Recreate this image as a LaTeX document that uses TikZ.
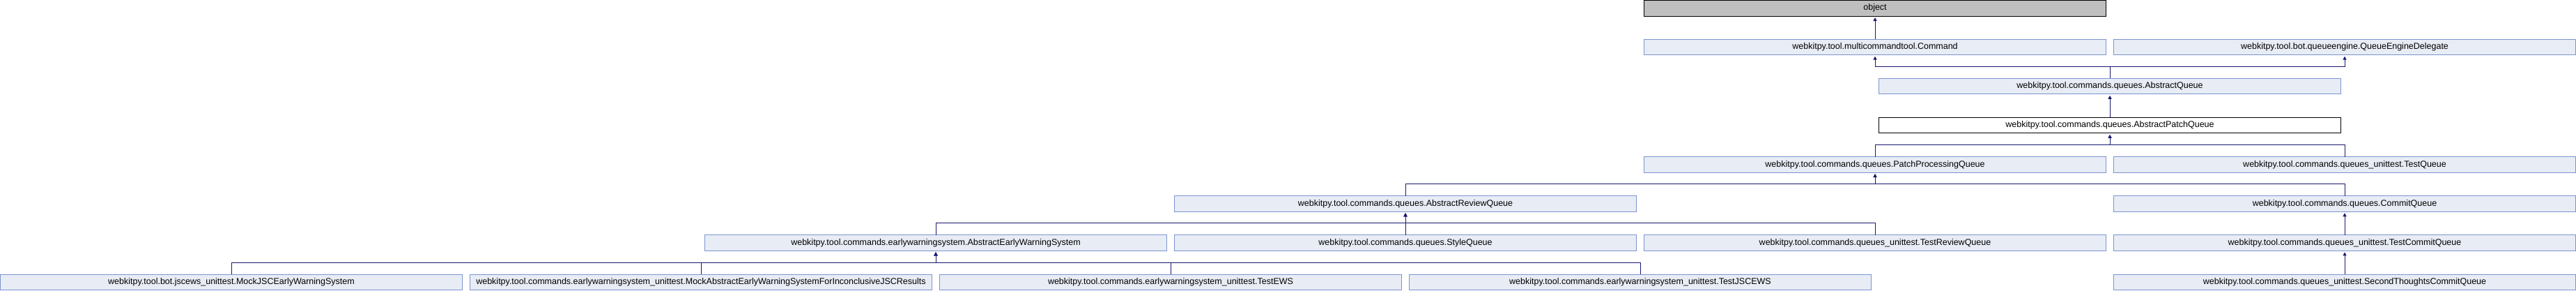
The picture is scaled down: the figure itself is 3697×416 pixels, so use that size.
\documentclass[tikz,border=0pt]{standalone}
\usepackage{fontspec}
\setmainfont{Liberation Sans}
\usetikzlibrary{arrows.meta,calc}
\definecolor{boxfill}{HTML}{E8ECF5}
\definecolor{boxline}{HTML}{7C95CE}
\definecolor{edgecol}{HTML}{191970}
\begin{document}
\begin{tikzpicture}[x=1pt,y=-1pt,
  cls/.style={draw=boxline,fill=boxfill,line width=1pt,minimum width=663pt,minimum height=22.5pt,inner sep=0pt,outer sep=0pt,anchor=north west,font=\fontsize{12.5}{14}\selectfont},
  cur/.style={cls,draw=black,fill=white},
  ext/.style={cls,draw=black,fill=black!25},
  edge/.style={draw=edgecol,line width=1pt,-{Triangle[length=5pt,width=5pt]},shorten >=2pt}]
\useasboundingbox (0,0) rectangle (3697,416);
% row 0
\node[ext] (object) at (2359.5,0.5) {object};
% row 1
\node[cls] (command) at (2359.5,56.15) {webkitpy.tool.multicommandtool.Command};
\node[cls] (qed) at (3033.5,56.15) {webkitpy.tool.bot.queueengine.QueueEngineDelegate};
% row 2
\node[cls] (aq) at (2696.5,112.3) {webkitpy.tool.commands.queues.AbstractQueue};
% row 3
\node[cur] (apq) at (2696.5,168.45) {webkitpy.tool.commands.queues.AbstractPatchQueue};
% row 4
\node[cls] (ppq) at (2359.5,224.6) {webkitpy.tool.commands.queues.PatchProcessingQueue};
\node[cls] (tq) at (3033.5,224.6) {webkitpy.tool.commands.queues\_unittest.TestQueue};
% row 5
\node[cls] (arq) at (1685.5,280.75) {webkitpy.tool.commands.queues.AbstractReviewQueue};
\node[cls] (cq) at (3033.5,280.75) {webkitpy.tool.commands.queues.CommitQueue};
% row 6
\node[cls] (aews) at (1011.5,336.9) {webkitpy.tool.commands.earlywarningsystem.AbstractEarlyWarningSystem};
\node[cls] (sq) at (1685.5,336.9) {webkitpy.tool.commands.queues.StyleQueue};
\node[cls] (trq) at (2359.5,336.9) {webkitpy.tool.commands.queues\_unittest.TestReviewQueue};
\node[cls] (tcq) at (3033.5,336.9) {webkitpy.tool.commands.queues\_unittest.TestCommitQueue};
% row 7
\node[cls] (mjsc) at (0.5,393.05) {webkitpy.tool.bot.jscews\_unittest.MockJSCEarlyWarningSystem};
\node[cls] (maews) at (674.5,393.05) {webkitpy.tool.commands.earlywarningsystem\_unittest.MockAbstractEarlyWarningSystemForInconclusiveJSCResults};
\node[cls] (tews) at (1348.5,393.05) {webkitpy.tool.commands.earlywarningsystem\_unittest.TestEWS};
\node[cls] (tjsc) at (2022.5,393.05) {webkitpy.tool.commands.earlywarningsystem\_unittest.TestJSCEWS};
\node[cls] (stcq) at (3033.5,393.05) {webkitpy.tool.commands.queues\_unittest.SecondThoughtsCommitQueue};
% edges
\draw[edge] (command.north) -- (object.south);
\draw[edge] (aq.north) |- ($(command.south)+(0,16.6)$) -- (command.south);
\draw[edge] (aq.north) |- ($(qed.south)+(0,16.6)$) -- (qed.south);
\draw[edge] (apq.north) -- (aq.south);
\draw[edge] (ppq.north) |- ($(apq.south)+(0,16.6)$) -- (apq.south);
\draw[edge] (tq.north) |- ($(apq.south)+(0,16.6)$) -- (apq.south);
\draw[edge] (arq.north) |- ($(ppq.south)+(0,16.6)$) -- (ppq.south);
\draw[edge] (cq.north) |- ($(ppq.south)+(0,16.6)$) -- (ppq.south);
\draw[edge] (aews.north) |- ($(arq.south)+(0,16.6)$) -- (arq.south);
\draw[edge] (sq.north) -- (arq.south);
\draw[edge] (trq.north) |- ($(arq.south)+(0,16.6)$) -- (arq.south);
\draw[edge] (tcq.north) -- (cq.south);
\draw[edge] (mjsc.north) |- ($(aews.south)+(0,16.6)$) -- (aews.south);
\draw[edge] (maews.north) |- ($(aews.south)+(0,16.6)$) -- (aews.south);
\draw[edge] (tews.north) |- ($(aews.south)+(0,16.6)$) -- (aews.south);
\draw[edge] (tjsc.north) |- ($(aews.south)+(0,16.6)$) -- (aews.south);
\draw[edge] (stcq.north) -- (tcq.south);
\end{tikzpicture}
\end{document}
